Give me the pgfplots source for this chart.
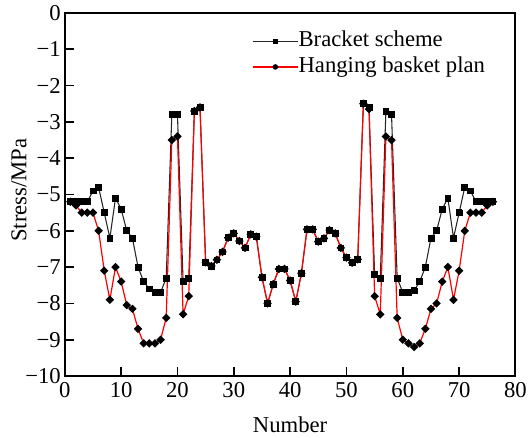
\documentclass[border=0pt]{standalone}
\usepackage{fontspec}
\setmainfont{Liberation Serif}
\usepackage{pgfplots}
\pgfplotsset{compat=1.18}
\usepackage{pgfplotstable}
\pgfplotstableread{
n b r
1 -5.2 -5.2
2 -5.2 -5.3
3 -5.2 -5.5
4 -5.2 -5.5
5 -4.9 -5.5
6 -4.8 -6.0
7 -5.5 -7.1
8 -6.2 -7.9
9 -5.1 -7.0
10 -5.4 -7.4
11 -6.0 -8.05
12 -6.2 -8.15
13 -7.0 -8.7
14 -7.4 -9.1
15 -7.6 -9.1
16 -7.7 -9.1
17 -7.7 -9.0
18 -7.3 -8.4
19 -2.8 -3.5
20 -2.8 -3.4
21 -7.4 -8.3
22 -7.3 -7.8
23 -2.7 -2.7
24 -2.6 -2.6
25 -6.87 -6.87
26 -6.97 -6.97
27 -6.8 -6.8
28 -6.58 -6.58
29 -6.19 -6.19
30 -6.07 -6.07
31 -6.28 -6.28
32 -6.47 -6.47
33 -6.1 -6.1
34 -6.16 -6.16
35 -7.28 -7.28
36 -8.0 -8.0
37 -7.47 -7.47
38 -7.05 -7.05
39 -7.05 -7.05
40 -7.37 -7.37
41 -7.95 -7.95
42 -7.17 -7.17
43 -5.96 -5.96
44 -5.96 -5.96
45 -6.3 -6.3
46 -6.21 -6.21
47 -5.98 -5.98
48 -6.07 -6.07
49 -6.47 -6.47
50 -6.74 -6.74
51 -6.88 -6.88
52 -6.79 -6.79
53 -2.5 -2.5
54 -2.6 -2.65
55 -7.2 -7.8
56 -7.3 -8.3
57 -2.7 -3.4
58 -2.8 -3.5
59 -7.3 -8.4
60 -7.7 -9.0
61 -7.7 -9.1
62 -7.65 -9.2
63 -7.4 -9.1
64 -7.0 -8.7
65 -6.2 -8.15
66 -6.0 -8.0
67 -5.4 -7.4
68 -5.1 -7.0
69 -6.2 -7.9
70 -5.5 -7.1
71 -4.8 -6.0
72 -4.9 -5.5
73 -5.2 -5.5
74 -5.2 -5.5
75 -5.2 -5.3
76 -5.2 -5.2
}\datatable
\begin{document}
\begin{tikzpicture}
\begin{axis}[
  scale only axis, width=338pt, height=272.25pt,
  xmin=0, xmax=80, ymin=-10, ymax=0,
  xtick={0,10,...,80},
  ytick={-10,-9,...,0},
  yticklabels={−10,−9,−8,−7,−6,−5,−4,−3,−2,−1,0},
  /pgf/number format/assume math mode=true,
  tick align=inside, tick pos=left,
  major tick length=6.75pt,
  axis line style={line width=1.5pt},
  every tick/.style={black, line width=1.2pt},
  tick label style={font=\fontsize{17}{20}\selectfont},
  yticklabel style={inner xsep=0pt, xshift=-2.8pt},
  xticklabel style={yshift=-1.2pt},
  xlabel={Number}, ylabel={Stress/MPa},
  label style={font=\fontsize{17}{20}\selectfont},
  xlabel style={at={(axis description cs:0.5,-0.135)}, anchor=center},
  ylabel style={at={(axis description cs:-0.1015,0.512)}, anchor=center},
  legend style={draw=none, fill=none, at={(rel axis cs:0.415,0.952)}, anchor=north west,
    font=\fontsize{17}{20}\selectfont, inner sep=0pt, row sep=3.2pt,
    nodes={inner sep=0pt, text height=12pt, text depth=4pt}},
  legend cell align=left,
  legend image code/.code={\draw[mark repeat=2,mark phase=2] plot coordinates {(0pt,0pt) (17pt,0pt) (34pt,0pt)};},
]
\addlegendimage{black!85, line width=0.8pt, mark=square*, mark size=1.5pt, mark options={black}}
\addlegendentry{Bracket scheme}
\addlegendimage{red, line width=0.9pt, mark=*, mark size=1.6pt, mark options={black, fill=black}}
\addlegendentry{Hanging basket plan}
\addplot[black!85, line width=0.8pt, mark=square*, mark size=2.1pt, mark options={black, fill=black}, forget plot] table[x=n, y=b] {\datatable};
\addplot[red, line width=0.9pt, mark=square*, mark size=1.8pt, mark options={black, fill=black, rotate=45}, forget plot] table[x=n, y=r] {\datatable};
\addplot[only marks, mark=square*, mark size=2.1pt, mark options={black, fill=black}, forget plot] table[x=n, y=b] {\datatable};
\end{axis}
\pgfresetboundingbox
\path ([xshift=-48.6pt,yshift=-45.75pt]current axis.south west) rectangle ([xshift=9.4pt,yshift=9.75pt]current axis.north east);
\end{tikzpicture}
\end{document}
